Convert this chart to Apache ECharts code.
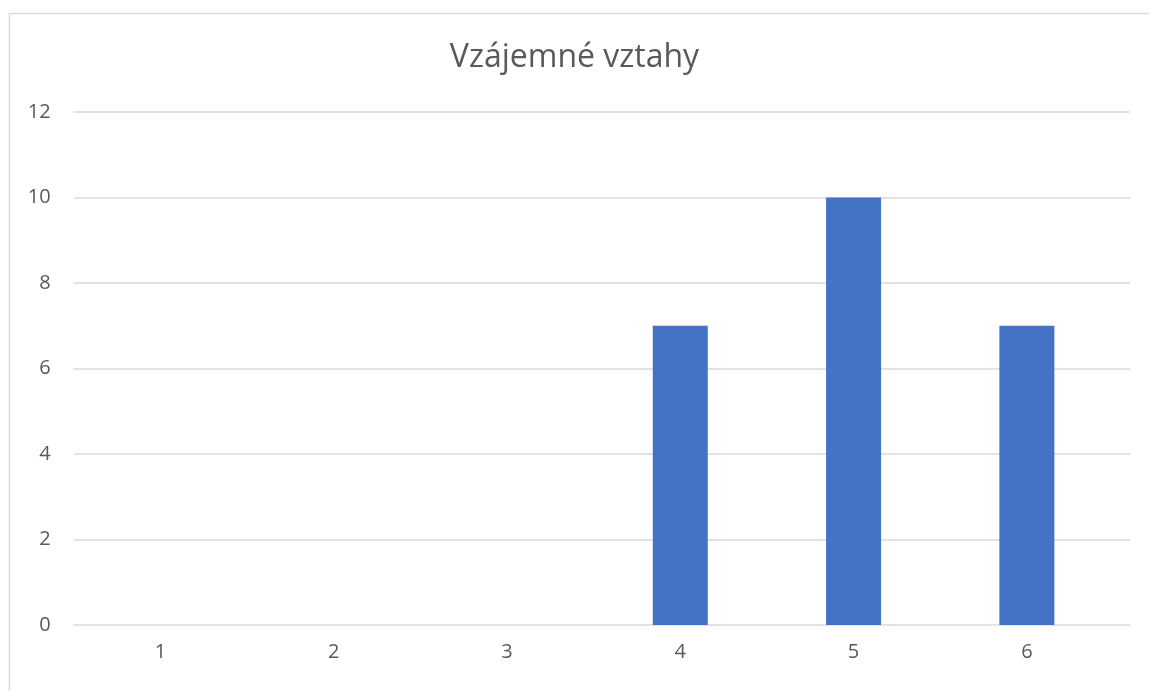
<!DOCTYPE html>
<html lang="cs">
<head>
    <meta charset="UTF-8">
    <title>Vzájemné vztahy</title>
    <script type="text/javascript" src="https://cdn.jsdelivr.net/npm/echarts@6/dist/echarts.min.js"></script>
</head>
<body style="margin:0;background:#fff;">
<div id="myChart" style="width:1149px;height:691px;"></div>
<script type="text/javascript">
    var categories = [1, 2, 3, 4, 5, 6]; // kategorie na ose X
    var values = [0, 0, 0, 7, 10, 7];    // hodnoty sloupců
    var yTicks = [0, 2, 4, 6, 8, 10, 12];

    var textColor = '#595959';
    var font = '"Open Sans", "Noto Sans", sans-serif';

    // páry [kategorie, hodnota] pro hodnotovou osu X
    var barData = categories.map(function (c, i) { return [c, values[i]]; });

    var myChart = echarts.init(document.getElementById('myChart'));
    var option = {
        animation: false,
        backgroundColor: '#ffffff',
        graphic: [{
            type: 'rect',
            shape: { x: 9.5, y: 13.5, width: 1300, height: 800 },
            style: { fill: 'none', stroke: '#d9d9d9', lineWidth: 1.5 },
            silent: true
        }],
        title: {
            text: 'Vzájemné vztahy',
            left: 'center',
            top: 37,
            textStyle: { color: textColor, fontFamily: font, fontWeight: 'normal', fontSize: 32 }
        },
        grid: {
            left: 73.7,
            right: 1149 - 1130,
            top: 112,
            height: 513
        },
        xAxis: {
            type: 'value',
            min: 0.5,
            max: 6.595,
            interval: 0.5,
            axisLine: { show: false },
            axisTick: { show: false },
            splitLine: { show: false },
            axisLabel: {
                color: textColor,
                fontFamily: font,
                fontSize: 20,
                margin: 17,
                showMinLabel: false,
                showMaxLabel: false,
                formatter: function (v) {
                    return categories.indexOf(v) >= 0 ? String(v) : '';
                }
            }
        },
        yAxis: {
            type: 'value',
            min: yTicks[0],
            max: yTicks[yTicks.length - 1],
            interval: 2,
            axisLine: { show: false },
            axisTick: { show: false },
            axisLabel: { color: textColor, fontFamily: font, fontSize: 20, margin: 23 },
            splitLine: { lineStyle: { color: '#d9d9d9', width: 1.5 } }
        },
        series: [{
            type: 'bar',
            barWidth: 55,
            data: barData,
            itemStyle: { color: '#4472c4' }
        }]
    };
    myChart.setOption(option);
</script>
</body>
</html>
